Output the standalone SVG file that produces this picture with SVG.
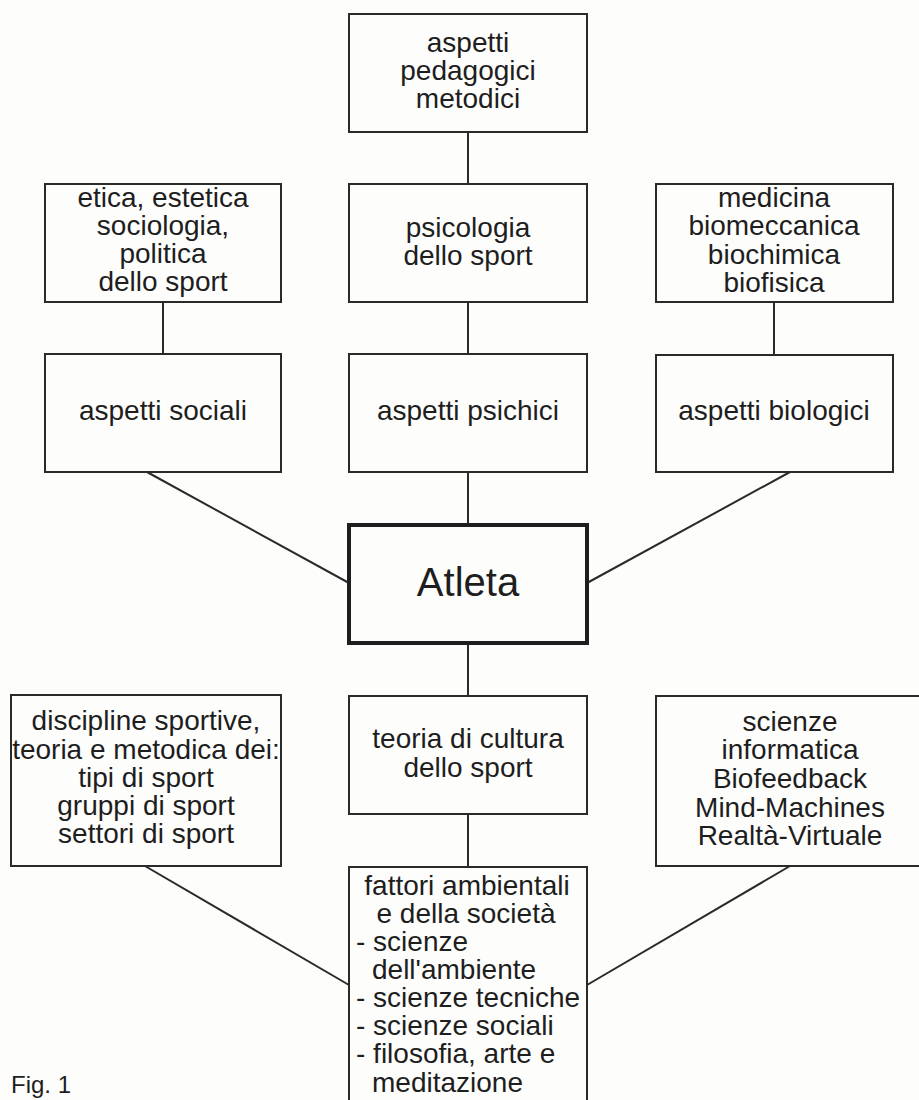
<svg xmlns="http://www.w3.org/2000/svg" width="919" height="1100" viewBox="0 0 919 1100">
<style>
.box{fill:none;stroke:#2a2a2a;stroke-width:2}
.main{fill:none;stroke:#1e1e1e;stroke-width:4}
.t{font-family:"Liberation Sans",Arial,sans-serif;font-size:28px;fill:#1e1e1e;text-anchor:middle}
.l{font-family:"Liberation Sans",Arial,sans-serif;font-size:28px;fill:#1e1e1e}
.big{font-family:"Liberation Sans",Arial,sans-serif;font-size:40px;fill:#1e1e1e;text-anchor:middle}
.c line{stroke:#2a2a2a;stroke-width:2}
</style>
<rect x="0" y="0" width="919" height="1100" fill="#fdfdfc"/>
<g id="connectors" class="c">
<line x1="468" y1="132" x2="468" y2="184"/>
<line x1="163" y1="302" x2="163" y2="354"/>
<line x1="468" y1="302" x2="468" y2="354"/>
<line x1="774" y1="302" x2="774" y2="355"/>
<line x1="147" y1="472" x2="349" y2="583"/>
<line x1="468" y1="472" x2="468" y2="525"/>
<line x1="790" y1="472" x2="587" y2="583"/>
<line x1="468" y1="643" x2="468" y2="696"/>
<line x1="468" y1="814" x2="468" y2="867"/>
<line x1="145" y1="866" x2="349" y2="985"/>
<line x1="790" y1="866" x2="587" y2="985"/>
</g>
<g id="n-pedagogici">
<rect class="box" x="349" y="14" width="238" height="118"/>
<text class="t" x="468" y="52">aspetti</text>
<text class="t" x="468" y="80">pedagogici</text>
<text class="t" x="468" y="108">metodici</text>
</g>
<g id="n-etica">
<rect class="box" x="45" y="184" width="236" height="118"/>
<text class="t" x="163" y="207">etica, estetica</text>
<text class="t" x="163" y="235">sociologia,</text>
<text class="t" x="163" y="263">politica</text>
<text class="t" x="163" y="291">dello sport</text>
</g>
<g id="n-psicologia">
<rect class="box" x="349" y="184" width="238" height="118"/>
<text class="t" x="468" y="237">psicologia</text>
<text class="t" x="468" y="265">dello sport</text>
</g>
<g id="n-medicina">
<rect class="box" x="656" y="184" width="237" height="118"/>
<text class="t" x="774" y="207">medicina</text>
<text class="t" x="774" y="235">biomeccanica</text>
<text class="t" x="774" y="264">biochimica</text>
<text class="t" x="774" y="292">biofisica</text>
</g>
<g id="n-sociali">
<rect class="box" x="45" y="354" width="236" height="118"/>
<text class="t" x="163" y="420">aspetti sociali</text>
</g>
<g id="n-psichici">
<rect class="box" x="349" y="354" width="238" height="118"/>
<text class="t" x="468" y="420">aspetti psichici</text>
</g>
<g id="n-biologici">
<rect class="box" x="656" y="355" width="237" height="117"/>
<text class="t" x="774" y="420">aspetti biologici</text>
</g>
<g id="n-atleta">
<rect class="main" x="349" y="525" width="238" height="118"/>
<text class="big" x="468" y="596">Atleta</text>
</g>
<g id="n-discipline">
<rect class="box" x="11" y="695" width="270" height="171"/>
<text class="t" x="146" y="730">discipline sportive,</text>
<text class="t" x="146" y="759">teoria e metodica dei:</text>
<text class="t" x="146" y="787">tipi di sport</text>
<text class="t" x="146" y="815">gruppi di sport</text>
<text class="t" x="146" y="843">settori di sport</text>
</g>
<g id="n-teoria">
<rect class="box" x="349" y="696" width="238" height="118"/>
<text class="t" x="468" y="748">teoria di cultura</text>
<text class="t" x="468" y="777">dello sport</text>
</g>
<g id="n-scienze">
<rect class="box" x="656" y="696" width="270" height="170"/>
<text class="t" x="790" y="731">scienze</text>
<text class="t" x="790" y="759">informatica</text>
<text class="t" x="790" y="788">Biofeedback</text>
<text class="t" x="790" y="817">Mind-Machines</text>
<text class="t" x="790" y="845">Realtà-Virtuale</text>
</g>
<g id="n-fattori">
<rect class="box" x="349" y="867" width="238" height="250"/>
<text class="t" x="467" y="895">fattori ambientali</text>
<text class="t" x="466" y="923">e della società</text>
<text class="l" x="356" y="951">- scienze</text>
<text class="l" x="372" y="979">dell'ambiente</text>
<text class="l" x="356" y="1007">- scienze tecniche</text>
<text class="l" x="356" y="1035">- scienze sociali</text>
<text class="l" x="356" y="1063">- filosofia, arte e</text>
<text class="l" x="372" y="1092">meditazione</text>
</g>
<text id="fig" x="11" y="1093" font-family="Liberation Sans, Arial, sans-serif" font-size="24" fill="#1e1e1e">Fig. 1</text>
</svg>
